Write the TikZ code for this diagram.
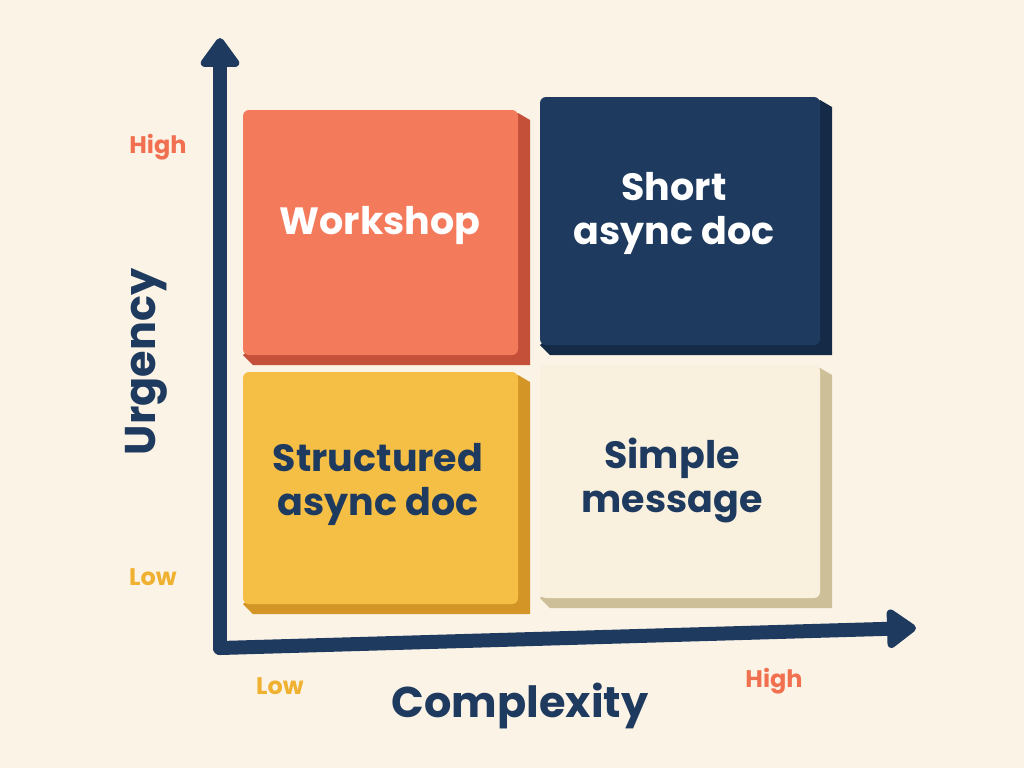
\documentclass[tikz,border=0pt]{standalone}
\usepackage{fontspec}
\setmainfont{Poppins}
\usetikzlibrary{arrows.meta}
\definecolor{bg}{HTML}{FBF3E6}
\definecolor{navy}{HTML}{1E3A5F}
\definecolor{navyside}{HTML}{142A47}
\definecolor{coral}{HTML}{F47A5C}
\definecolor{coralside}{HTML}{C4503A}
\definecolor{mustard}{HTML}{F5BE45}
\definecolor{mustardside}{HTML}{D39626}
\definecolor{cream}{HTML}{FAF0DE}
\definecolor{creamside}{HTML}{CDBF98}
\definecolor{lowc}{HTML}{F0B030}
\definecolor{highc}{HTML}{F07050}
\tikzset{
  axis/.style={navy,line width=7pt,line cap=round,-{Triangle[length=16pt,width=22pt,round]}},
  word/.style={font=\bfseries\fontsize{19}{22}\selectfont,align=center},
  tick/.style={font=\bfseries\fontsize{12}{14}\selectfont},
  title/.style={navy,font=\bfseries\fontsize{21.5}{26}\selectfont}
}
% block: x1,y1,x2,y2,face,side
\newcommand\qblock[6]{%
  \fill[#6] (#3,#2+3) -- (#3+12,#2+10) -- (#3+12,#4+10) -- (#1+10,#4+10) -- (#1,#4) -- cycle;
  \fill[#5,rounded corners=3pt] (#1,#2) rectangle (#3,#4);
}
\begin{document}
\begin{tikzpicture}[x=0.5pt,y=-0.5pt]
  \fill[bg] (0,0) rectangle (1024,768);
  % axes
  \coordinate (origin) at (220,648);
  \coordinate (ytop) at (220,38);
  \coordinate (xend) at (916,628);
  \draw[axis] (origin) -- (ytop);
  \draw[axis] (origin) -- (xend);
  % quadrants
  \qblock{243}{110}{518}{355}{coral}{coralside}
  \qblock{540}{97}{820}{345}{navy}{navyside}
  \qblock{243}{372}{518}{604}{mustard}{mustardside}
  \qblock{540}{365}{820}{598}{cream}{creamside}
  \node (workshop) [word,white] at (380,225) {Workshop};
  \node (short) [word,white] at (674,213) {Short\\async doc};
  \node (structured) [word,navy] at (378,484) {Structured\\async doc};
  \node (simple) [word,navy] at (672,480) {Simple\\message};
  % scale labels
  \node (yhigh) [tick,highc] at (158,147) {High};
  \node (ylow) [tick,lowc] at (153,577) {Low};
  \node (xlow) [tick,lowc] at (280,686) {Low};
  \node (xhigh) [tick,highc] at (774,681) {High};
  \node (urgency) [title,rotate=90] at (146,362) {Urgency};
  \node (complexity) [title] at (520,706) {Complexity};
\end{tikzpicture}
\end{document}
